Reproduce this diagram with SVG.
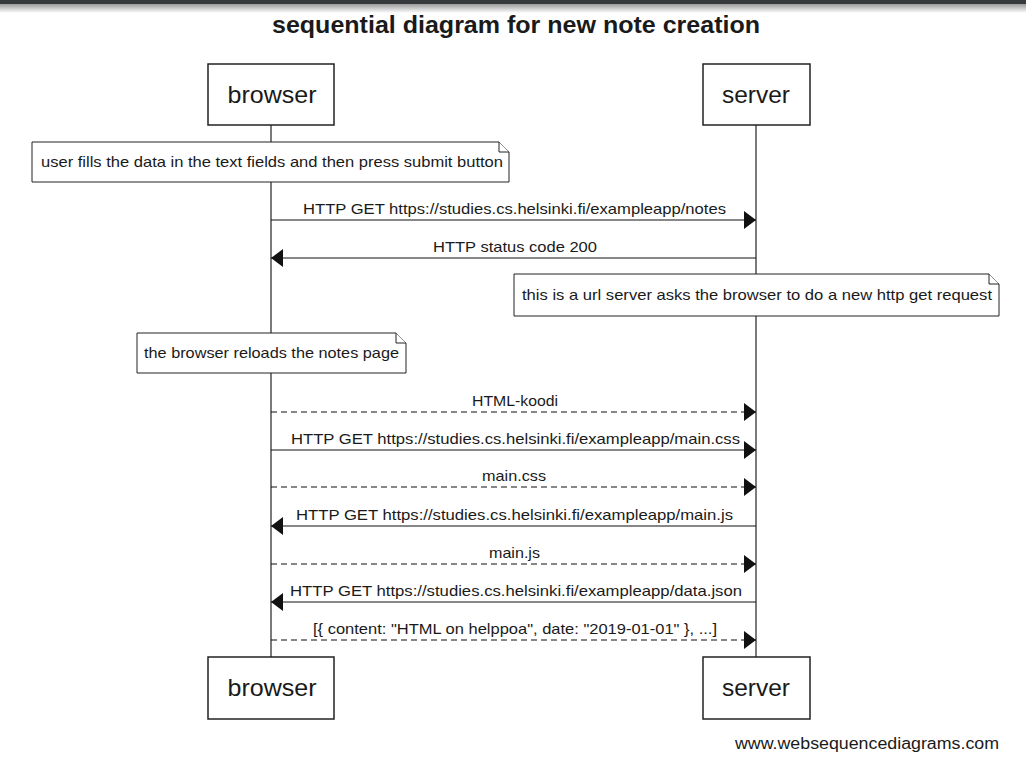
<svg xmlns="http://www.w3.org/2000/svg" width="1026" height="780" viewBox="0 0 1026 780">
<style>
text{font-family:"Liberation Sans",Arial,sans-serif;fill:#1a1a1a}
.box{fill:#fff;stroke:#222;stroke-width:1.5}
.part{font-size:24px;text-anchor:middle}
.note{fill:#fff;stroke:#222;stroke-width:1}
.nt{font-size:14.5px}
.msg{font-size:14.5px;text-anchor:middle}
.life{stroke:#222;stroke-width:1.2}
.ln{stroke:#111;stroke-width:1.2;fill:none}
.dash{stroke-dasharray:6,4}
</style>
<defs>
<linearGradient id="sh" x1="0" y1="0" x2="0" y2="1">
<stop offset="0" stop-color="#9a9a9a"/>
<stop offset="1" stop-color="#ffffff"/>
</linearGradient>
<marker id="ah" markerWidth="13" markerHeight="20" refX="12" refY="10" orient="auto" markerUnits="userSpaceOnUse">
<path d="M0,1 L12,10 L0,19 Z" fill="#111"/>
</marker>
</defs>
<rect x="0" y="0" width="1026" height="780" fill="#fff"/>
<rect x="0" y="0" width="1026" height="4" fill="#37393b"/>
<rect x="0" y="4" width="1026" height="9" fill="url(#sh)"/>
<text x="516" y="33" font-size="24" font-weight="bold" text-anchor="middle" textLength="488" lengthAdjust="spacingAndGlyphs">sequential diagram for new note creation</text>

<g id="lifelines">
<line class="life" x1="271" y1="125" x2="271" y2="657"/>
<line class="life" x1="756" y1="125" x2="756" y2="657"/>
</g>

<g id="browser-top"><rect class="box" x="208" y="64" width="126" height="61"/><text class="part" x="272" y="103" textLength="89" lengthAdjust="spacingAndGlyphs">browser</text></g>
<g id="server-top"><rect class="box" x="703" y="64" width="107" height="61"/><text class="part" x="756" y="103" textLength="68" lengthAdjust="spacingAndGlyphs">server</text></g>
<g id="browser-bottom"><rect class="box" x="208" y="657" width="126" height="62"/><text class="part" x="272" y="696" textLength="89" lengthAdjust="spacingAndGlyphs">browser</text></g>
<g id="server-bottom"><rect class="box" x="703" y="657" width="107" height="62"/><text class="part" x="756" y="696" textLength="68" lengthAdjust="spacingAndGlyphs">server</text></g>

<g id="note1"><path class="note" d="M32,142 H499 L509,152 V182 H32 Z"/><path class="note" d="M499,142 V152 H509"/><text class="nt" x="41" y="167" textLength="462" lengthAdjust="spacingAndGlyphs">user fills the data in the text fields and then press submit button</text></g>
<g id="note2"><path class="note" d="M514,274 H989 L999,284 V316 H514 Z"/><path class="note" d="M989,274 V284 H999"/><text class="nt" x="522" y="300" textLength="470" lengthAdjust="spacingAndGlyphs">this is a url server asks the browser to do a new http get request</text></g>
<g id="note3"><path class="note" d="M137,333 H396 L406,343 V373 H137 Z"/><path class="note" d="M396,333 V343 H406"/><text class="nt" x="144" y="358" textLength="255" lengthAdjust="spacingAndGlyphs">the browser reloads the notes page</text></g>

<g id="connectors">
<line class="ln" x1="271" y1="220" x2="756" y2="220" marker-end="url(#ah)"/>
<text class="msg" x="514.5" y="214" textLength="423" lengthAdjust="spacingAndGlyphs">HTTP GET https://studies.cs.helsinki.fi/exampleapp/notes</text>
<line class="ln" x1="756" y1="258" x2="271" y2="258" marker-end="url(#ah)"/>
<text class="msg" x="515" y="252" textLength="164" lengthAdjust="spacingAndGlyphs">HTTP status code 200</text>
<line class="ln dash" x1="271" y1="412" x2="756" y2="412" marker-end="url(#ah)"/>
<text class="msg" x="515" y="406" textLength="86" lengthAdjust="spacingAndGlyphs">HTML-koodi</text>
<line class="ln" x1="271" y1="450" x2="756" y2="450" marker-end="url(#ah)"/>
<text class="msg" x="515.5" y="444" textLength="449" lengthAdjust="spacingAndGlyphs">HTTP GET https://studies.cs.helsinki.fi/exampleapp/main.css</text>
<line class="ln dash" x1="271" y1="487" x2="756" y2="487" marker-end="url(#ah)"/>
<text class="msg" x="514" y="481" textLength="64" lengthAdjust="spacingAndGlyphs">main.css</text>
<line class="ln" x1="756" y1="526" x2="271" y2="526" marker-end="url(#ah)"/>
<text class="msg" x="514.5" y="520" textLength="437" lengthAdjust="spacingAndGlyphs">HTTP GET https://studies.cs.helsinki.fi/exampleapp/main.js</text>
<line class="ln dash" x1="271" y1="564" x2="756" y2="564" marker-end="url(#ah)"/>
<text class="msg" x="514.5" y="558" textLength="51" lengthAdjust="spacingAndGlyphs">main.js</text>
<line class="ln" x1="756" y1="602" x2="271" y2="602" marker-end="url(#ah)"/>
<text class="msg" x="516" y="596" textLength="452" lengthAdjust="spacingAndGlyphs">HTTP GET https://studies.cs.helsinki.fi/exampleapp/data.json</text>
<line class="ln dash" x1="271" y1="640" x2="756" y2="640" marker-end="url(#ah)"/>
<text class="msg" x="515" y="634" textLength="404" lengthAdjust="spacingAndGlyphs">[{ content: "HTML on helppoa", date: "2019-01-01" }, ...]</text>
</g>
<text x="735" y="749" font-size="16" fill="#222" textLength="264" lengthAdjust="spacingAndGlyphs">www.websequencediagrams.com</text>
</svg>
